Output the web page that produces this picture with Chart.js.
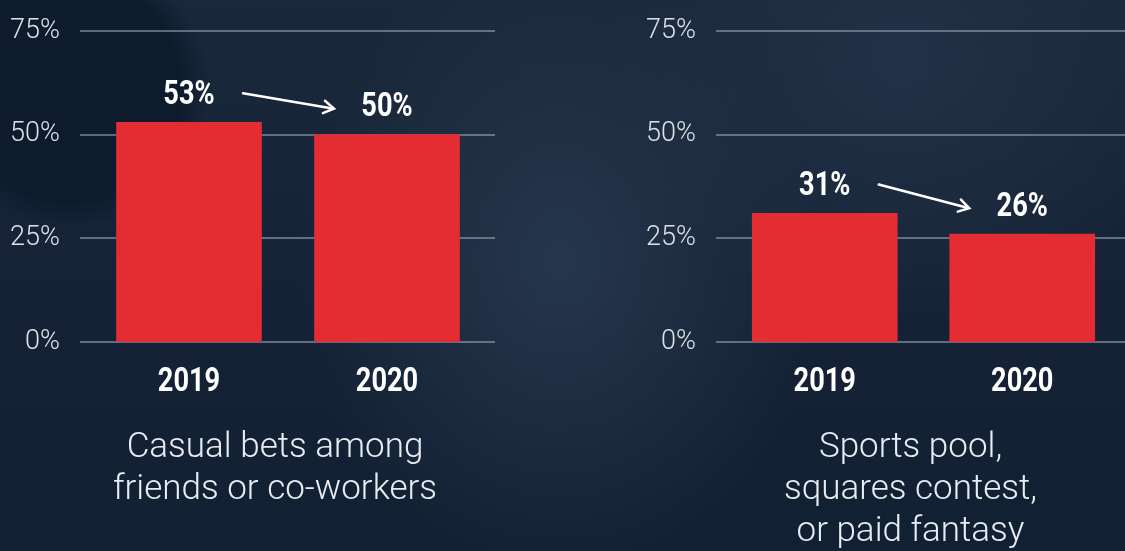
<!DOCTYPE html>
<html>
<head>
<meta charset="utf-8">
<script src="https://cdn.jsdelivr.net/npm/chart.js@4"></script>
<style>
  html, body { margin: 0; padding: 0; }
  body {
    width: 1125px; height: 551px; overflow: hidden; position: relative;
    background:
      radial-gradient(circle at 70px 90px, #0e1b2d 0, #0e1b2d 110px, rgba(14,27,45,0) 140px),
      radial-gradient(ellipse 260px 320px at 560px 260px, #26364c 0, rgba(38,54,76,0) 100%),
      radial-gradient(ellipse 300px 260px at 900px 60px, #223147 0, rgba(34,49,71,0) 100%),
      linear-gradient(180deg, #1a283b 0%, #152236 60%, #122033 100%);
  }
  canvas { position: absolute; top: 0; }
  #casual { left: 0; }
  #pool { left: 560px; }
</style>
</head>
<body>
<canvas id="casual" width="560" height="551"></canvas>
<canvas id="pool" width="565" height="551"></canvas>
<script>
const years = ['2019', '2020'];
const casualBets = [53, 50];
const sportsPool = [31, 26];
const yTicks = [0, 25, 50, 75];
const casualCaption = ['Casual bets among', 'friends or co-workers'];
const poolCaption = ['Sports pool,', 'squares contest,', 'or paid fantasy'];

const bold = "Roboto, 'Liberation Sans', sans-serif";
const light = "Roboto, 'Open Sans', sans-serif";

// narrow bold text, squeezed sideways like the condensed face in the original
function condensedText(ctx, text, x, y) {
  ctx.save();
  ctx.translate(x, y);
  ctx.scale(0.8, 1);
  ctx.fillText(text, 0, 0);
  ctx.restore();
}

// grid lines stick out a bit past the plot area
const gridLines = {
  id: 'gridLines',
  beforeDatasetsDraw(chart, args, opts) {
    const {ctx, chartArea, scales} = chart;
    ctx.save();
    ctx.strokeStyle = 'rgba(160,172,190,0.55)';
    ctx.lineWidth = 2;
    scales.y.ticks.forEach(t => {
      const y = Math.round(scales.y.getPixelForValue(t.value));
      ctx.beginPath();
      ctx.moveTo(chartArea.left - opts.left, y);
      ctx.lineTo(chartArea.right + opts.right, y);
      ctx.stroke();
    });
    ctx.restore();
  }
};

// value labels, the arrow between them, year labels and the caption
const annotate = {
  id: 'annotate',
  afterDatasetsDraw(chart, args, opts) {
    const {ctx, chartArea} = chart;
    const bars = chart.getDatasetMeta(0).data;
    const values = chart.data.datasets[0].data;
    ctx.save();
    ctx.fillStyle = '#ffffff';
    ctx.font = `bold 34px ${bold}`;
    ctx.textAlign = 'center';
    ctx.textBaseline = 'middle';
    const ys = bars.map((b, i) => {
      const y = b.y - 27;
      condensedText(ctx, values[i] + '%', b.x, y);
      condensedText(ctx, chart.data.labels[i], b.x, chartArea.bottom + 40);
      return y;
    });

    const x0 = bars[0].x + 54, y0 = ys[0] - 2;
    const x1 = bars[1].x - 53, y1 = ys[1] + 1;
    ctx.strokeStyle = '#ffffff';
    ctx.lineWidth = 2.5;
    ctx.lineCap = 'round';
    ctx.beginPath();
    ctx.moveTo(x0, y0);
    ctx.lineTo(x1, y1);
    const a = Math.atan2(y1 - y0, x1 - x0);
    ctx.moveTo(x1 - 12 * Math.cos(a - 0.55), y1 - 12 * Math.sin(a - 0.55));
    ctx.lineTo(x1, y1);
    ctx.lineTo(x1 - 12 * Math.cos(a + 0.55), y1 - 12 * Math.sin(a + 0.55));
    ctx.stroke();

    ctx.fillStyle = '#e9ecf0';
    ctx.font = `300 35px ${light}`;
    ctx.textBaseline = 'alphabetic';
    const cx = (chartArea.left + chartArea.right) / 2 - 13;
    opts.lines.forEach((line, i) => ctx.fillText(line, cx, 457 + i * 42));
    ctx.restore();
  }
};

function drawChart(canvas, values, caption, yWidth, padRight, gridRight) {
  return new Chart(canvas, {
    type: 'bar',
    data: {
      labels: years,
      datasets: [{
        data: values,
        backgroundColor: '#e32d33',
        barThickness: 145
      }]
    },
    options: {
      responsive: false,
      animation: false,
      layout: { padding: { top: 31, right: padRight, left: 0, bottom: 0 } },
      plugins: {
        legend: { display: false },
        tooltip: { enabled: false },
        gridLines: { left: 10, right: gridRight },
        annotate: { lines: caption }
      },
      scales: {
        x: {
          grid: { display: false },
          border: { display: false },
          ticks: { display: false },
          afterFit: s => { s.height = 209; s.paddingLeft = 0; s.paddingRight = 0; }
        },
        y: {
          min: 0,
          max: 75,
          afterBuildTicks: s => { s.ticks = yTicks.map(v => ({ value: v })); },
          grid: { display: false },
          border: { display: false },
          ticks: {
            color: '#dde1e7',
            font: { family: light, size: 27, weight: 300 },
            padding: 22,
            callback: v => v + '%'
          },
          afterFit: s => { s.width = yWidth; s.paddingTop = 0; s.paddingBottom = 0; }
        }
      }
    },
    plugins: [gridLines, annotate]
  });
}

drawChart(document.getElementById('casual'), casualBets, casualCaption, 90, 74, 9);
drawChart(document.getElementById('pool'), sportsPool, poolCaption, 166, 4, 4);
</script>
</body>
</html>
